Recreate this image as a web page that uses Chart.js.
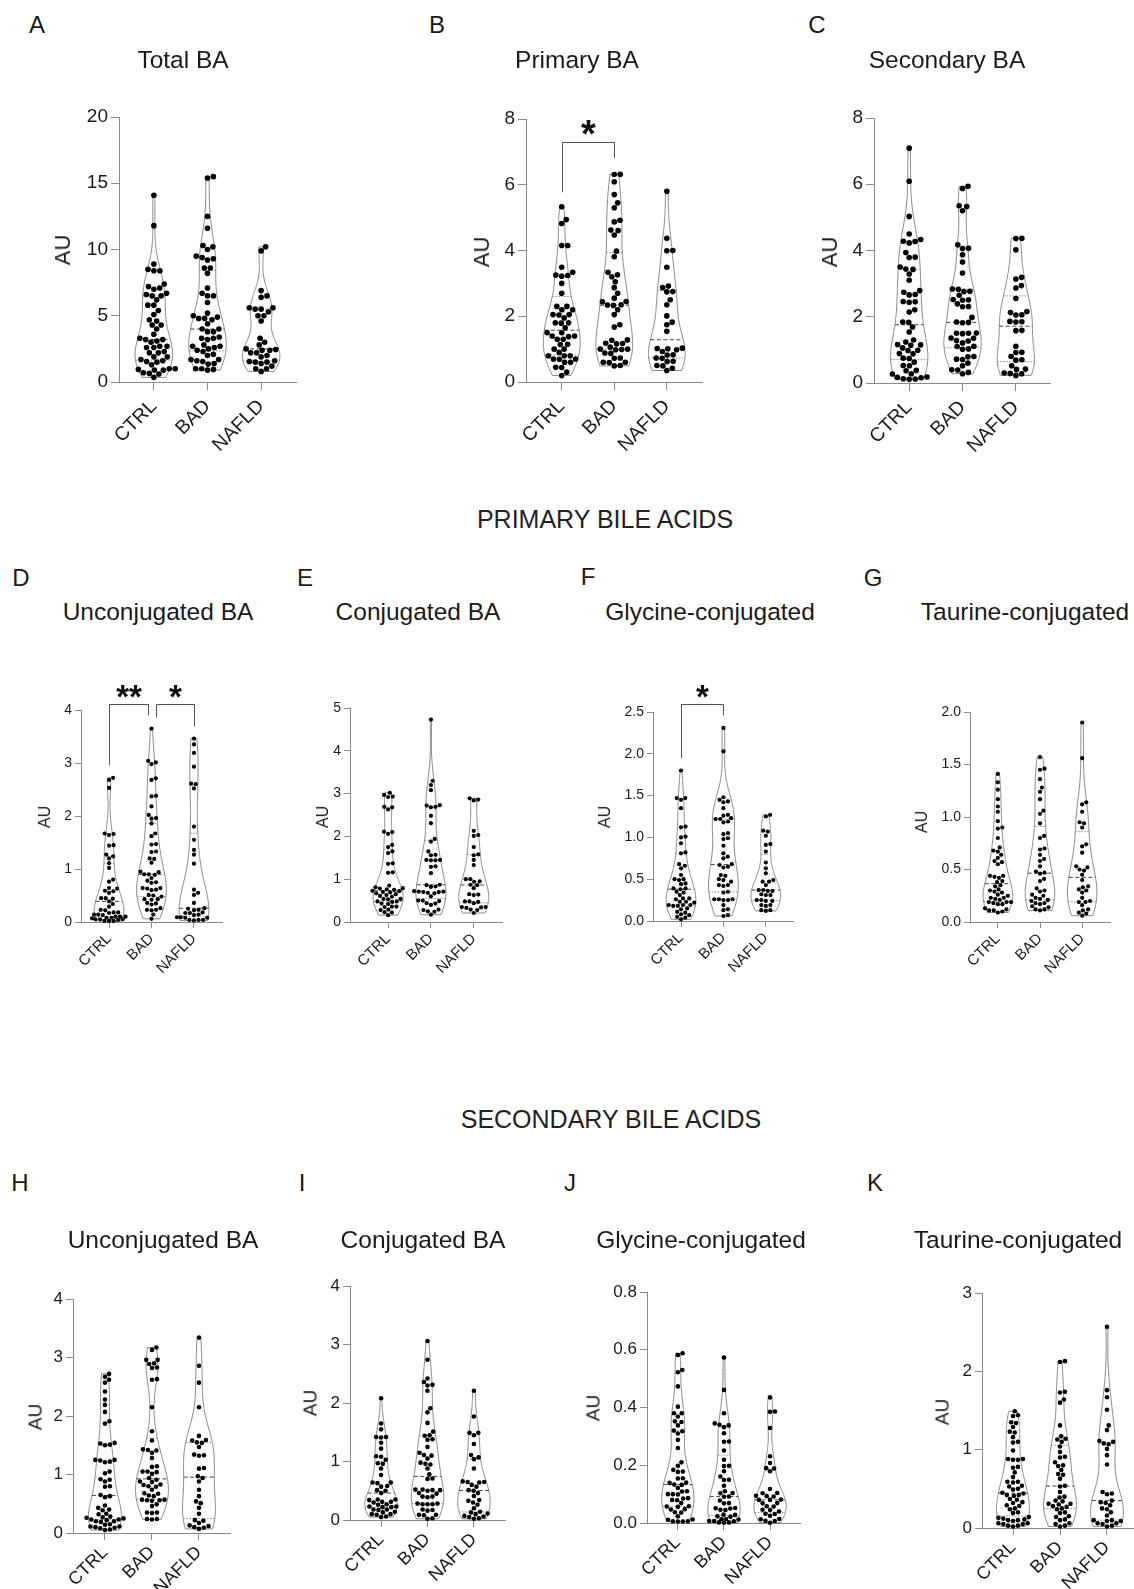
<!DOCTYPE html>
<html><head><meta charset="utf-8">
<script src="https://cdn.jsdelivr.net/npm/chart.js@4.4.0/dist/chart.umd.min.js"></script>
<style>
body{margin:0;width:1134px;height:1589px;position:relative;overflow:hidden;background:#fff;font-family:"Liberation Sans",Arial,sans-serif;color:#1a1a1a}
canvas{position:absolute}
.t{position:absolute;white-space:nowrap;line-height:1}
</style></head><body>
<script>
const CATEGORIES = ['CTRL','BAD','NAFLD'];

const TICKS_A = [0,5,10,15,20];
const A_CTRL = [14.1,11.8,8.9,8.5,8.4,8.4,7.4,7.2,7.1,7.0,6.7,6.6,6.5,6.5,6.2,5.8,5.8,5.4,5.1,4.7,4.6,4.3,4.3,4.0,3.6,3.3,3.2,3.2,3.1,3.0,2.7,2.7,2.6,2.6,2.3,2.2,2.2,1.9,1.9,1.7,1.6,1.55,1.5,1.3,1.0,1.0,0.95,0.9,0.9,0.7,0.65,0.6,0.35];
const A_BAD = [15.5,15.4,12.5,11.6,10.3,10.2,10.0,9.5,9.4,9.3,9.2,8.6,8.6,8.2,7.1,6.7,6.5,6.5,6.0,5.2,5.0,4.9,4.8,4.8,4.7,4.4,4.0,4.0,3.8,3.8,3.4,3.3,3.3,3.2,2.8,2.7,2.7,2.6,2.5,2.4,2.3,2.1,2.0,1.7,1.7,1.6,1.55,1.4,1.35,1.0,1.0,0.95,0.9];
const A_NAFLD = [10.2,9.9,6.9,6.5,6.4,5.6,5.6,5.5,5.5,5.3,5.0,5.0,4.6,3.3,3.0,2.8,2.5,2.45,2.4,2.4,2.2,2.2,2.0,1.9,1.6,1.55,1.5,1.5,1.4,1.2,1.0,1.0,0.8];

const TICKS_B = [0,2,4,6,8];
const B_CTRL = [5.33,4.94,4.82,4.15,4.15,3.49,3.34,3.25,3.24,3.22,3.0,2.7,2.3,2.3,2.2,2.2,2.05,2.05,2.04,1.95,1.8,1.8,1.79,1.65,1.5,1.5,1.4,1.4,1.38,1.3,1.3,1.15,1.14,1.0,1.0,0.9,0.8,0.8,0.8,0.7,0.7,0.69,0.6,0.6,0.45,0.44,0.3,0.2];
const B_BAD = [6.32,6.31,6.09,5.7,5.45,5.3,4.92,4.87,4.62,4.61,4.47,3.98,3.81,3.34,3.26,3.2,3.05,2.87,2.7,2.55,2.45,2.44,2.35,2.34,2.33,2.2,2.05,1.74,1.67,1.28,1.27,1.18,1.17,1.16,1.06,1.0,1.0,0.99,0.98,0.88,0.87,0.73,0.72,0.6,0.6,0.59,0.5,0.49];
const B_NAFLD = [5.8,4.37,4.0,3.99,3.49,2.92,2.87,2.75,2.74,2.5,2.35,2.01,1.82,1.74,1.54,1.03,1.02,1.01,0.98,0.93,0.83,0.82,0.73,0.72,0.63,0.62,0.5,0.49,0.42,0.35];

const TICKS_C = [0,2,4,6,8];
const C_CTRL = [7.09,6.09,5.03,4.5,4.33,4.28,4.27,4.23,3.94,3.8,3.79,3.5,3.44,3.43,3.29,3.1,2.79,2.74,2.67,2.66,2.46,2.45,2.44,2.21,2.14,1.84,1.83,1.69,1.54,1.3,1.24,1.16,1.15,1.14,1.06,0.99,0.98,0.89,0.88,0.75,0.74,0.63,0.53,0.52,0.38,0.37,0.28,0.27,0.18,0.17,0.16,0.13,0.12,0.11];
const C_BAD = [5.94,5.87,5.35,5.33,5.2,4.17,4.07,4.06,3.87,3.65,3.32,2.84,2.83,2.77,2.76,2.65,2.52,2.51,2.5,2.39,2.31,2.3,1.98,1.84,1.83,1.82,1.51,1.5,1.5,1.49,1.36,1.35,1.28,1.27,1.21,1.11,1.1,1.03,1.02,0.8,0.79,0.72,0.71,0.6,0.52,0.4,0.39,0.32,0.28];
const C_NAFLD = [4.37,4.36,4.02,3.19,3.14,2.94,2.87,2.55,2.16,2.13,2.06,2.05,1.86,1.85,1.84,1.59,1.58,1.11,0.93,0.92,0.8,0.7,0.69,0.52,0.42,0.41,0.3,0.29,0.28,0.23];

const TICKS_D = [0,1,2,3,4];
const D_CTRL = [2.72,2.68,2.53,1.67,1.66,1.64,1.45,1.44,1.27,1.24,1.2,1.11,1.02,0.8,0.76,0.64,0.63,0.59,0.58,0.55,0.45,0.45,0.44,0.39,0.34,0.29,0.23,0.22,0.18,0.18,0.17,0.14,0.14,0.13,0.1,0.1,0.1,0.08,0.08,0.07,0.05,0.05,0.05,0.04,0.02,0.02,0.02];
const D_BAD = [3.65,3.04,3.01,2.98,2.71,2.68,2.38,2.37,2.18,2.02,1.96,1.95,1.86,1.67,1.62,1.47,1.46,1.33,1.32,1.2,1.19,1.12,0.95,0.94,0.9,0.9,0.89,0.83,0.78,0.75,0.74,0.64,0.64,0.63,0.61,0.6,0.51,0.5,0.48,0.43,0.43,0.42,0.36,0.35,0.33,0.26,0.23,0.23,0.22,0.14,0.06];
const D_NAFLD = [3.46,3.35,3.19,2.93,2.61,2.6,2.52,1.8,1.55,1.36,1.27,1.1,0.61,0.55,0.51,0.36,0.26,0.25,0.23,0.22,0.18,0.17,0.17,0.14,0.13,0.09,0.09,0.08,0.08,0.04,0.04,0.04,0.03];

const TICKS_E = [0,1,2,3,4,5];
const E_CTRL = [3.02,2.97,2.93,2.92,2.69,2.68,2.63,2.11,2.1,2.06,1.8,1.75,1.65,1.61,1.37,1.36,1.16,1.15,0.85,0.81,0.79,0.78,0.76,0.75,0.73,0.72,0.7,0.69,0.67,0.65,0.63,0.61,0.59,0.54,0.54,0.53,0.48,0.48,0.47,0.43,0.42,0.36,0.36,0.35,0.29,0.28,0.23,0.22,0.16];
const E_BAD = [4.73,3.3,3.2,3.08,2.73,2.72,2.69,2.68,2.48,2.31,1.94,1.88,1.65,1.57,1.56,1.45,1.45,1.44,1.44,1.3,1.29,1.14,0.87,0.86,0.83,0.82,0.72,0.71,0.71,0.7,0.7,0.68,0.67,0.6,0.5,0.5,0.49,0.44,0.43,0.4,0.29,0.28,0.25,0.24,0.17];
const E_NAFLD = [2.89,2.86,2.84,2.13,2.03,2.01,1.75,1.58,1.56,1.45,1.33,1.0,1.0,0.95,0.94,0.87,0.86,0.79,0.65,0.64,0.63,0.48,0.48,0.47,0.44,0.35,0.35,0.34,0.33,0.29,0.28,0.21];

const TICKS_F = [0,0.5,1.0,1.5,2.0,2.5];
const F_CTRL = [1.8,1.47,1.47,1.45,1.35,1.13,1.12,1.01,1.0,0.93,0.82,0.81,0.68,0.66,0.63,0.55,0.5,0.5,0.49,0.45,0.44,0.39,0.39,0.38,0.35,0.34,0.31,0.27,0.27,0.26,0.23,0.23,0.22,0.19,0.19,0.19,0.18,0.18,0.15,0.14,0.11,0.1,0.08,0.07,0.05,0.04,0.02];
const F_BAD = [2.31,2.03,1.48,1.45,1.43,1.42,1.35,1.27,1.26,1.23,1.22,1.22,1.19,1.18,1.05,1.04,0.99,0.98,0.9,0.81,0.77,0.75,0.68,0.67,0.65,0.64,0.55,0.54,0.5,0.49,0.47,0.43,0.43,0.42,0.35,0.34,0.26,0.26,0.26,0.25,0.25,0.19,0.14,0.13,0.07,0.06];
const F_NAFLD = [1.27,1.25,1.08,1.07,1.02,0.92,0.91,0.83,0.7,0.63,0.57,0.49,0.47,0.47,0.43,0.37,0.37,0.36,0.36,0.32,0.31,0.31,0.25,0.25,0.24,0.24,0.19,0.19,0.18,0.13,0.13,0.12];

const TICKS_G = [0,0.5,1.0,1.5,2.0];
const G_CTRL = [1.41,1.33,1.26,1.17,1.1,1.05,0.96,0.9,0.89,0.8,0.71,0.68,0.67,0.64,0.61,0.58,0.57,0.55,0.44,0.44,0.43,0.42,0.39,0.38,0.35,0.34,0.31,0.3,0.29,0.28,0.26,0.25,0.23,0.23,0.22,0.21,0.19,0.19,0.19,0.18,0.17,0.17,0.13,0.12,0.11,0.11,0.1,0.09];
const G_BAD = [1.57,1.46,1.45,1.36,1.28,1.24,1.17,1.06,1.03,0.94,0.82,0.8,0.7,0.69,0.64,0.6,0.58,0.53,0.48,0.47,0.46,0.41,0.39,0.32,0.3,0.29,0.26,0.25,0.23,0.22,0.21,0.2,0.18,0.18,0.17,0.15,0.14,0.12,0.12,0.11];
const G_NAFLD = [1.9,1.56,1.14,1.12,1.05,0.95,0.94,0.9,0.74,0.72,0.66,0.53,0.52,0.5,0.49,0.45,0.4,0.34,0.33,0.31,0.3,0.28,0.23,0.2,0.19,0.19,0.16,0.12,0.11,0.09,0.08,0.06];

const TICKS_H = [0,1,2,3,4];
const H_CTRL = [2.72,2.67,2.62,2.57,2.42,2.28,2.19,2.07,1.91,1.87,1.54,1.53,1.51,1.5,1.25,1.25,1.24,1.22,1.21,1.05,1.02,0.92,0.91,0.88,0.8,0.79,0.65,0.63,0.61,0.47,0.43,0.4,0.39,0.33,0.32,0.28,0.27,0.26,0.25,0.23,0.23,0.22,0.2,0.2,0.19,0.15,0.14,0.11,0.11,0.1,0.09,0.08,0.06,0.05];
const H_BAD = [3.17,3.13,2.96,2.96,2.9,2.89,2.83,2.82,2.63,2.62,2.15,1.74,1.58,1.43,1.42,1.41,1.37,1.28,1.14,1.13,1.05,1.05,1.04,1.01,0.94,0.91,0.88,0.87,0.83,0.82,0.8,0.79,0.74,0.68,0.67,0.64,0.63,0.57,0.57,0.56,0.56,0.55,0.49,0.46,0.35,0.35,0.34,0.24,0.24,0.23];
const H_NAFLD = [3.34,2.86,2.57,2.15,1.66,1.59,1.58,1.55,1.54,1.47,1.34,1.33,1.32,1.11,1.1,0.97,0.94,0.88,0.74,0.63,0.54,0.51,0.43,0.33,0.22,0.21,0.17,0.13,0.12,0.1,0.09,0.07];

const TICKS_I = [0,1,2,3,4];
const I_CTRL = [2.08,1.65,1.55,1.42,1.42,1.41,1.32,1.22,1.09,1.08,1.03,0.97,0.96,0.88,0.77,0.64,0.64,0.63,0.58,0.57,0.51,0.5,0.46,0.35,0.35,0.34,0.31,0.31,0.3,0.27,0.26,0.23,0.23,0.22,0.22,0.18,0.18,0.17,0.14,0.13,0.1,0.1,0.09,0.06,0.05];
const I_BAD = [3.06,2.74,2.42,2.36,2.31,2.3,2.21,1.91,1.84,1.66,1.51,1.45,1.44,1.38,1.37,1.25,1.15,1.11,1.1,1.05,0.98,0.96,0.95,0.88,0.78,0.71,0.7,0.52,0.52,0.51,0.51,0.5,0.46,0.45,0.4,0.4,0.39,0.28,0.28,0.27,0.27,0.27,0.18,0.17,0.16,0.09,0.09,0.08,0.03,0.02];
const I_NAFLD = [2.21,1.77,1.49,1.49,1.45,1.3,1.11,1.07,1.04,0.88,0.66,0.65,0.65,0.64,0.6,0.57,0.51,0.5,0.46,0.41,0.34,0.33,0.3,0.26,0.2,0.14,0.13,0.11,0.1,0.07,0.06,0.05,0.03,0.02];

const TICKS_J = [0,0.2,0.4,0.6,0.8];
const J_CTRL = [0.588,0.582,0.53,0.522,0.473,0.403,0.38,0.38,0.369,0.352,0.35,0.338,0.32,0.318,0.31,0.288,0.26,0.21,0.198,0.184,0.178,0.177,0.155,0.154,0.14,0.139,0.133,0.132,0.121,0.11,0.109,0.1,0.1,0.099,0.086,0.085,0.08,0.079,0.069,0.058,0.057,0.056,0.048,0.047,0.037,0.036,0.023,0.012,0.011,0.006,0.006,0.005,0.005];
const J_BAD = [0.573,0.461,0.38,0.345,0.34,0.338,0.332,0.311,0.282,0.281,0.251,0.219,0.198,0.197,0.179,0.161,0.15,0.149,0.129,0.11,0.104,0.103,0.092,0.091,0.078,0.069,0.068,0.052,0.051,0.05,0.046,0.045,0.029,0.028,0.023,0.022,0.014,0.013,0.012,0.007,0.007,0.006,0.002,0.002,0.001];
const J_NAFLD = [0.435,0.386,0.385,0.329,0.231,0.208,0.19,0.189,0.179,0.118,0.104,0.103,0.094,0.093,0.092,0.081,0.08,0.08,0.069,0.068,0.058,0.057,0.046,0.045,0.04,0.032,0.031,0.025,0.014,0.013,0.008,0.007,0.001];

const TICKS_K = [0,1,2,3];
const K_CTRL = [1.49,1.44,1.43,1.35,1.34,1.29,1.23,1.22,1.16,1.1,1.09,0.99,0.88,0.88,0.87,0.87,0.78,0.77,0.71,0.65,0.59,0.59,0.58,0.54,0.53,0.5,0.49,0.45,0.44,0.42,0.42,0.41,0.37,0.36,0.33,0.32,0.29,0.28,0.25,0.24,0.2,0.19,0.14,0.13,0.12,0.11,0.1,0.1,0.09,0.06,0.06,0.05,0.05,0.03,0.03,0.02];
const K_BAD = [2.13,2.12,1.74,1.73,1.64,1.6,1.31,1.17,1.14,1.13,1.1,1.04,0.97,0.91,0.9,0.84,0.8,0.79,0.74,0.69,0.68,0.63,0.54,0.53,0.46,0.4,0.39,0.35,0.34,0.31,0.31,0.3,0.28,0.27,0.25,0.24,0.2,0.19,0.15,0.14,0.11,0.1,0.06,0.05,0.03,0.02];
const K_NAFLD = [2.57,1.76,1.67,1.51,1.31,1.25,1.11,1.1,1.08,1.07,1.01,0.93,0.81,0.46,0.44,0.43,0.35,0.33,0.32,0.29,0.25,0.24,0.2,0.16,0.1,0.1,0.09,0.09,0.06,0.06,0.05,0.03,0.02];

const SECTIONS = ['PRIMARY BILE ACIDS','SECONDARY BILE ACIDS'];

// ---------- layout (geometry only) ----------
const ROW = [
  {tickFs:19, catFs:19.5, auFs:22, r:2.8, tl:8, xpad:5, star:38},
  {tickFs:14, catFs:15, auFs:16, r:2.1, tl:6, xpad:2, star:33},
  {tickFs:17, catFs:18, auFs:19, r:2.3, tl:7, xpad:2, star:33}
];
const PANELS = [
  {L:'A', title:'Total BA', row:0, groups:[A_CTRL,A_BAD,A_NAFLD], ticks:TICKS_A, dec:0, box:[119,296,117,382], xr:[-0.65,2.65], letter:[37,25], tpos:[183,60], au:[63,250], sig:[]},
  {L:'B', title:'Primary BA', row:0, groups:[B_CTRL,B_BAD,B_NAFLD], ticks:TICKS_B, dec:0, box:[526,702,119,382], xr:[-0.68,2.67], letter:[437,25], tpos:[577,60], au:[482,252],
    sig:[{x1:0,x2:1,y:7.29,y1:5.77,y2:6.81,s:'*',sy:7.81}]},
  {L:'C', title:'Secondary BA', row:0, groups:[C_CTRL,C_BAD,C_NAFLD], ticks:TICKS_C, dec:0, box:[874,1050,118,383], xr:[-0.66,2.64], letter:[817,25], tpos:[947,60], au:[830,252], sig:[]},
  {L:'D', title:'Unconjugated BA', row:1, groups:[D_CTRL,D_BAD,D_NAFLD], ticks:TICKS_D, dec:0, box:[81,222,710,922], xr:[-0.66,2.66], letter:[21,578], tpos:[158,612], au:[45,817],
    sig:[{x1:0,x2:0.92,y:4.12,y1:2.96,y2:3.9,s:'**',sy:4.39},{x1:1.1,x2:2,y:4.12,y1:3.86,y2:3.69,s:'*',sy:4.39}]},
  {L:'E', title:'Conjugated BA', row:1, groups:[E_CTRL,E_BAD,E_NAFLD], ticks:TICKS_E, dec:0, box:[350,502,708,922], xr:[-0.89,2.66], letter:[305,578], tpos:[418,612], au:[323,817], sig:[]},
  {L:'F', title:'Glycine-conjugated', row:1, groups:[F_CTRL,F_BAD,F_NAFLD], ticks:TICKS_F, dec:1, box:[653,793,712,921], xr:[-0.66,2.64], letter:[588,577], tpos:[710,612], au:[605,817],
    sig:[{x1:0,x2:1,y:2.6,y1:1.95,y2:2.46,s:'*',sy:2.77}]},
  {L:'G', title:'Taurine-conjugated', row:1, groups:[G_CTRL,G_BAD,G_NAFLD], ticks:TICKS_G, dec:1, box:[970,1110,712,922], xr:[-0.66,2.66], letter:[873,578], tpos:[1025,612], au:[922,822], sig:[]},
  {L:'H', title:'Unconjugated BA', row:2, groups:[H_CTRL,H_BAD,H_NAFLD], ticks:TICKS_H, dec:0, box:[73,230,1299,1533], xr:[-0.68,2.66], letter:[20,1183], tpos:[163,1240], au:[35,1417], sig:[]},
  {L:'I', title:'Conjugated BA', row:2, groups:[I_CTRL,I_BAD,I_NAFLD], ticks:TICKS_I, dec:0, box:[350,505,1286,1520], xr:[-0.67,2.67], letter:[302,1183], tpos:[423,1240], au:[310,1403], sig:[]},
  {L:'J', title:'Glycine-conjugated', row:2, groups:[J_CTRL,J_BAD,J_NAFLD], ticks:TICKS_J, dec:1, box:[647,800,1292,1523], xr:[-0.67,2.65], letter:[570,1183], tpos:[701,1240], au:[593,1408], sig:[]},
  {L:'K', title:'Taurine-conjugated', row:2, groups:[K_CTRL,K_BAD,K_NAFLD], ticks:TICKS_K, dec:0, box:[982,1138,1293,1528], xr:[-0.66,2.66], letter:[875,1183], tpos:[1018,1240], au:[942,1412], sig:[]}
];

const FONT = '"Liberation Sans", Arial, sans-serif';
Chart.defaults.font.family = FONT;
Chart.defaults.color = '#1a1a1a';

function addText(txt, x, y, fs, opts = {}) {
  const d = document.createElement('div');
  d.className = 't';
  d.textContent = txt;
  d.style.fontSize = fs + 'px';
  d.style.left = x + 'px';
  if (opts.rot) {
    d.style.top = y + 'px';
    d.style.transform = 'translate(-50%,-50%) rotate(-90deg)';
  } else {
    d.style.top = (y - 0.49 * fs) + 'px';
    d.style.transform = 'translateX(-50%)';
  }
  if (opts.color) d.style.color = opts.color;
  document.body.appendChild(d);
}

function quantile(s, p) {
  const n = s.length; const pos = (n + 1) * p - 1;
  if (pos <= 0) return s[0]; if (pos >= n - 1) return s[n - 1];
  const lo = Math.floor(pos); return s[lo] + (pos - lo) * (s[lo + 1] - s[lo]);
}
function groupStats(vals) {
  const s = vals.slice().sort((a, b) => a - b);
  const n = s.length;
  const mean = s.reduce((a, b) => a + b, 0) / n;
  const sd = Math.sqrt(s.reduce((a, b) => a + (b - mean) ** 2, 0) / (n - 1));
  const q1 = quantile(s, 0.25), med = quantile(s, 0.5), q3 = quantile(s, 0.75);
  const iqr = q3 - q1;
  const h = 0.9 * Math.min(sd, iqr > 0 ? iqr / 1.34 : sd) * Math.pow(n, -0.2);
  const dens = y => { let t = 0; for (const v of s) { const u = (y - v) / h; t += Math.exp(-0.5 * u * u); } return t; };
  const N = 120, pts = []; let dmax = 0;
  for (let i = 0; i <= N; i++) { const y = s[0] + (s[n - 1] - s[0]) * i / N; const d = dens(y); pts.push([y, d]); if (d > dmax) dmax = d; }
  return {s, q1, med, q3, pts, dmax, dens};
}

// deterministic beeswarm layout (pixel space), with a maximum half-width
function swarm(vals, pxX, pxY, D, cap) {
  const idx = vals.map((v, i) => i).sort((a, b) => vals[a] - vals[b]);
  const placed = [], out = new Array(vals.length);
  for (const i of idx) {
    const yp = vals[i] * pxY;
    const near = placed.filter(p => Math.abs(p.y - yp) < D);
    const cands = [0];
    for (const p of near) { const dx = Math.sqrt(D * D - (p.y - yp) ** 2); cands.push(p.x + dx, p.x - dx); }
    cands.sort((a, b) => Math.abs(a) - Math.abs(b));
    let xp = null;
    for (const c of cands) {
      if (Math.abs(c) > cap) break;
      if (near.every(p => (p.x - c) ** 2 + (p.y - yp) ** 2 >= D * D - 0.01)) { xp = c; break; }
    }
    if (xp === null) {
      let best = -1;
      for (let c = -cap; c <= cap; c += 0.5) {
        const md = Math.min(...near.map(p => Math.hypot(p.x - c, p.y - yp)));
        if (md > best + 1e-6) { best = md; xp = c; }
      }
    }
    placed.push({x: xp, y: yp}); out[i] = xp / pxX;
  }
  return out;
}

function makeViolinPlugin(stats, half, sig, starFs) {
  return {
    id: 'violin',
    beforeDatasetsDraw(chart) {
      const {ctx} = chart; const x = chart.scales.x, y = chart.scales.y;
      stats.forEach((st, gi) => {
        const cx = x.getPixelForValue(gi);
        const hw = x.getPixelForValue(gi + half) - cx;
        const w = d => d / st.dmax * hw;
        ctx.save();
        ctx.beginPath();
        st.pts.forEach(([yv, d], i) => { const px = cx + w(d), py = y.getPixelForValue(yv); i ? ctx.lineTo(px, py) : ctx.moveTo(px, py); });
        for (let i = st.pts.length - 1; i >= 0; i--) { const [yv, d] = st.pts[i]; ctx.lineTo(cx - w(d), y.getPixelForValue(yv)); }
        ctx.closePath();
        ctx.strokeStyle = '#7a7a7a'; ctx.lineWidth = 0.9; ctx.stroke();
        const qline = (v, dash, col) => {
          const ww = w(st.dens(v)); const py = y.getPixelForValue(v);
          ctx.beginPath(); ctx.setLineDash(dash); ctx.strokeStyle = col; ctx.lineWidth = 1;
          ctx.moveTo(cx - ww, py); ctx.lineTo(cx + ww, py); ctx.stroke();
        };
        qline(st.q1, [1.5, 1.5], '#8a8a8a');
        qline(st.q3, [1.5, 1.5], '#8a8a8a');
        qline(st.med, [4, 2.5], '#444');
        ctx.restore();
      });
    },
    afterDatasetsDraw(chart) {
      if (!sig.length) return;
      const {ctx} = chart; const x = chart.scales.x, y = chart.scales.y;
      ctx.save();
      sig.forEach(b => {
        const X1 = Math.round(x.getPixelForValue(b.x1)) + 0.5, X2 = Math.round(x.getPixelForValue(b.x2)) + 0.5;
        const Y = Math.round(y.getPixelForValue(b.y)) + 0.5;
        ctx.beginPath(); ctx.strokeStyle = '#555'; ctx.lineWidth = 1;
        ctx.moveTo(X1, y.getPixelForValue(b.y1)); ctx.lineTo(X1, Y); ctx.lineTo(X2, Y); ctx.lineTo(X2, y.getPixelForValue(b.y2));
        ctx.stroke();
        ctx.fillStyle = '#111'; ctx.font = 'bold ' + starFs + 'px ' + FONT;
        ctx.textAlign = 'center'; ctx.textBaseline = 'alphabetic';
        ctx.fillText(b.s, (X1 + X2) / 2, y.getPixelForValue(b.sy) + starFs * 0.56);
      });
      ctx.restore();
    }
  };
}

const Y_W = 48, PAD_T = 50, PAD_R = 20, X_H = 80;

PANELS.forEach(p => {
  const row = ROW[p.row];
  const [l, r, t, b] = p.box;
  const plotW = r - l, plotH = b - t;
  const yMax = p.ticks[p.ticks.length - 1];
  const pxX = plotW / (p.xr[1] - p.xr[0]);
  const pxY = plotH / yMax;
  const D = 2 * row.r + 0.4;

  const cv = document.createElement('canvas');
  const W = Y_W + plotW + PAD_R, H = PAD_T + plotH + X_H;
  cv.width = W; cv.height = H;
  cv.style.left = (l - Y_W) + 'px'; cv.style.top = (t - PAD_T) + 'px';
  cv.style.width = W + 'px'; cv.style.height = H + 'px';
  document.body.appendChild(cv);

  const datasets = p.groups.map((vals, gi) => {
    const off = swarm(vals, pxX, pxY, D, 0.4 * pxX);
    return {
      data: vals.map((v, i) => ({x: gi + off[i], y: v})),
      backgroundColor: '#000', borderWidth: 0, pointRadius: row.r, pointHoverRadius: row.r, clip: false
    };
  });

  const stats = p.groups.map(groupStats);
  const ticksY = p.ticks.slice();
  const dec = p.dec;

  new Chart(cv, {
    type: 'scatter',
    data: {datasets},
    plugins: [makeViolinPlugin(stats, 0.35, p.sig, row.star)],
    options: {
      responsive: false, animation: false, devicePixelRatio: 1, events: [],
      layout: {padding: {top: PAD_T, right: PAD_R, left: 0, bottom: 0}},
      plugins: {legend: {display: false}, tooltip: {enabled: false}},
      scales: {
        x: {
          type: 'linear', min: p.xr[0], max: p.xr[1],
          afterBuildTicks: s => { s.ticks = [0, 1, 2].map(i => ({value: i})); },
          afterFit: s => { s.height = X_H; },
          grid: {drawOnChartArea: false, drawTicks: true, tickLength: row.tl, color: '#8a8a8a'},
          border: {display: true, color: '#8a8a8a', width: 1},
          ticks: {autoSkip: false, minRotation: 45, maxRotation: 45, padding: row.xpad, color: '#1a1a1a',
            font: {size: row.catFs}, callback: v => CATEGORIES[v]}
        },
        y: {
          type: 'linear', min: 0, max: yMax,
          afterBuildTicks: s => { s.ticks = ticksY.map(v => ({value: v})); },
          afterFit: s => { s.width = Y_W; },
          grid: {drawOnChartArea: false, drawTicks: true, tickLength: row.tl, color: '#8a8a8a'},
          border: {display: true, color: '#8a8a8a', width: 1},
          ticks: {padding: 3, color: '#1a1a1a', font: {size: row.tickFs}, callback: v => Number(v).toFixed(dec)}
        }
      }
    }
  });

  addText(p.L, p.letter[0], p.letter[1], 24);
  addText(p.title, p.tpos[0], p.tpos[1], 24.5);
  addText('AU', p.au[0], p.au[1], row.auFs, {rot: true});
});

addText(SECTIONS[0], 605, 519, 25, {color: '#222'});
addText(SECTIONS[1], 611, 1119, 25, {color: '#222'});
</script>
</body></html>
